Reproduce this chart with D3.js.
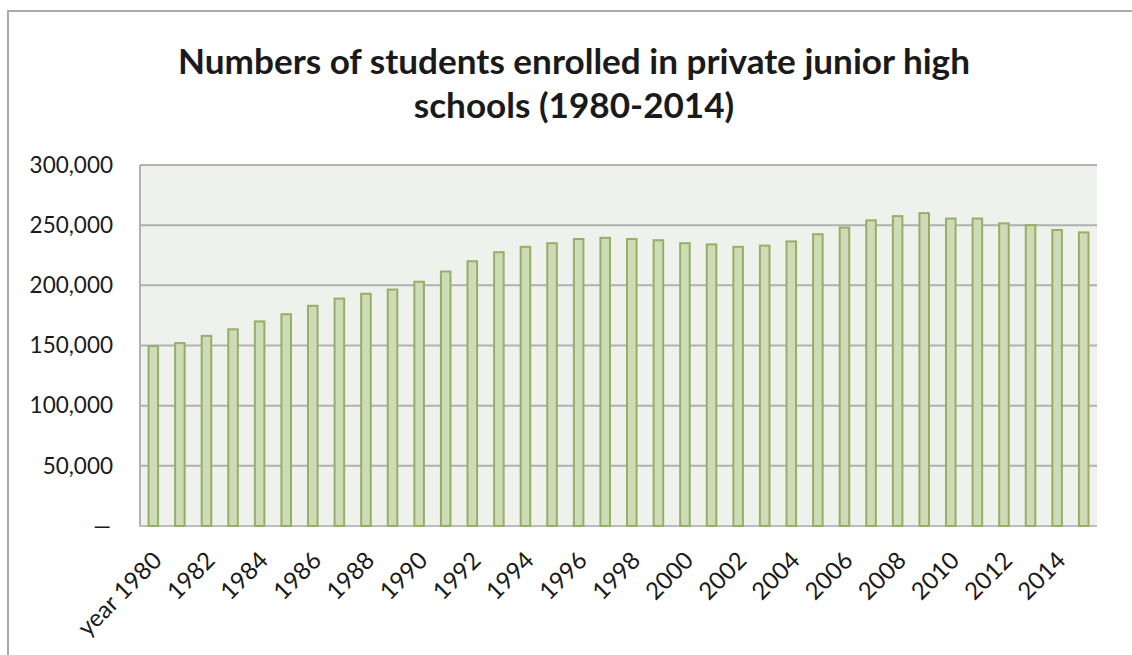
<!DOCTYPE html>
<html>
<head>
<meta charset="utf-8">
<script src="https://cdn.jsdelivr.net/npm/d3@7/dist/d3.min.js"></script>
<style>
  html, body { margin: 0; padding: 0; background: #ffffff; }
  svg { display: block; }
  text { font-family: Lato, "Open Sans", sans-serif; fill: #1a1a1a; }
</style>
</head>
<body>
<svg id="chart" width="1132" height="655"></svg>
<script>
// ---- data ----
const titleLines = ["Numbers of students enrolled in private junior high", "schools (1980-2014)"];
const years = ["1980","1981","1982","1983","1984","1985","1986","1987","1988","1989",
               "1990","1991","1992","1993","1994","1995","1996","1997","1998","1999",
               "2000","2001","2002","2003","2004","2005","2006","2007","2008","2009",
               "2010","2011","2012","2013","2014","2015"];
const students = [149500, 152000, 158000, 163500, 170000, 176000, 183000, 189000, 193000, 196500,
                  203000, 211500, 220000, 227500, 232000, 235000, 238500, 239500, 238500, 237500,
                  235000, 234000, 232000, 233000, 236500, 242500, 248000, 254000, 257500, 260000,
                  255500, 255500, 251500, 250000, 246000, 244000];
const xTickLabels = ["year 1980","","1982","","1984","","1986","","1988","",
                     "1990","","1992","","1994","","1996","","1998","",
                     "2000","","2002","","2004","","2006","","2008","",
                     "2010","","2012","","2014",""];
const yTickValues = [0, 50000, 100000, 150000, 200000, 250000, 300000];
const yTickLabels = ["\u2014", "50,000", "100,000", "150,000", "200,000", "250,000", "300,000"];

// ---- layout ----
const svg = d3.select("#chart");
const plot = { left: 140, right: 1097, top: 165, bottom: 526 };

// outer chart frame
svg.append("rect")
  .attr("x", 8).attr("y", 11).attr("width", 1140).attr("height", 660)
  .attr("fill", "#ffffff").attr("stroke", "#a9a9a9").attr("stroke-width", 2);

// title
const title = svg.append("g");
const titleTexts = title.selectAll("text").data(titleLines).join("text")
  .attr("x", 574)
  .attr("y", (d, i) => 74 + i * 44)
  .attr("text-anchor", "middle")
  .attr("font-weight", "bold")
  .attr("font-size", 32)
  .text(d => d);
// fit first line to reference width
const w0 = titleTexts.nodes()[0].getComputedTextLength();
const fs = 32 * 792 / w0;
titleTexts.attr("font-size", fs);

const x = d3.scaleBand()
  .domain(years)
  .range([plot.left, plot.right])
  .paddingInner(0.64)
  .paddingOuter(0.32);

const y = d3.scaleLinear()
  .domain([0, 300000])
  .range([plot.bottom, plot.top]);

// plot background
svg.append("rect")
  .attr("x", plot.left).attr("y", plot.top)
  .attr("width", plot.right - plot.left).attr("height", plot.bottom - plot.top)
  .attr("fill", "#eff2ec");

// gridlines
svg.append("g")
  .selectAll("line").data(yTickValues.filter(v => v > 0)).join("line")
  .attr("x1", plot.left).attr("x2", plot.right)
  .attr("y1", d => y(d)).attr("y2", d => y(d))
  .attr("stroke", "#b1b1b1").attr("stroke-width", 2);

// left border & bottom axis line
svg.append("line")
  .attr("x1", plot.left).attr("x2", plot.left)
  .attr("y1", plot.top).attr("y2", plot.bottom)
  .attr("stroke", "#b1b1b1").attr("stroke-width", 2);
svg.append("line")
  .attr("x1", plot.left - 1).attr("x2", plot.right)
  .attr("y1", plot.bottom).attr("y2", plot.bottom)
  .attr("stroke", "#bdbdbd").attr("stroke-width", 2);

// bars
svg.append("g")
  .selectAll("rect").data(years).join("rect")
  .attr("x", d => x(d))
  .attr("y", (d, i) => y(students[i]))
  .attr("width", x.bandwidth())
  .attr("height", (d, i) => y(0) - y(students[i]))
  .attr("fill", "#cfdbb6")
  .attr("stroke", "#96ae66")
  .attr("stroke-width", 2);

// y axis labels
const yAxis = d3.axisLeft(y)
  .tickValues(yTickValues)
  .tickFormat((d, i) => yTickLabels[i])
  .tickSize(0)
  .tickPadding(0);
const gy = svg.append("g")
  .attr("transform", `translate(${113},0)`)
  .call(yAxis);
gy.select(".domain").remove();
gy.selectAll("text")
  .attr("font-family", "Lato, 'Open Sans', sans-serif")
  .attr("font-size", 22.5)
  .attr("fill", "#1a1a1a");
gy.selectAll(".tick").filter(d => d === 0).select("text")
  .attr("fill", "#777777").attr("dx", -2);

// x axis labels
const xAxis = d3.axisBottom(x)
  .tickFormat((d, i) => xTickLabels[i])
  .tickSize(0)
  .tickPadding(0);
const gx = svg.append("g")
  .attr("transform", `translate(0,${556})`)
  .call(xAxis);
gx.select(".domain").remove();
gx.selectAll("text")
  .attr("font-family", "Lato, 'Open Sans', sans-serif")
  .attr("font-size", 24)
  .attr("fill", "#1a1a1a")
  .attr("text-anchor", "end")
  .attr("dy", "0.35em")
  .attr("y", 0)
  .attr("transform", "translate(4,0) rotate(-45)");
</script>
</body>
</html>
